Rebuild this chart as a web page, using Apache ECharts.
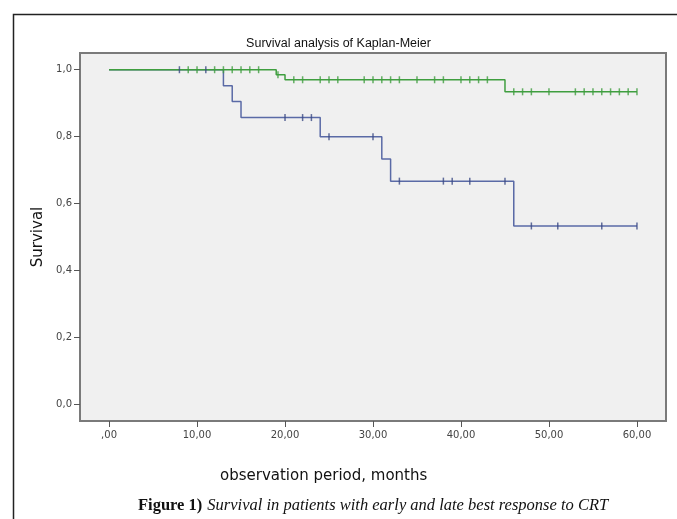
<!DOCTYPE html>
<html>

<head>
  <meta charset="UTF-8">
  <title>Survival analysis of Kaplan-Meier</title>
  <style>
    html, body { margin: 0; padding: 0; background: #fff; }
  </style>
</head>

<body>
  <div id="main" style="width: 677px; height: 519px;"></div>
  <script src="https://cdn.jsdelivr.net/npm/echarts@6/dist/echarts.min.js"></script>
  <script>
    // step points of the two Kaplan-Meier curves [month, survival]
    const greenSteps = [[0, 1], [19, 0.985], [20, 0.97], [45, 0.934], [60, 0.934]];
    const blueSteps = [[0, 1], [13, 0.952], [14, 0.905], [15, 0.857], [24, 0.8], [31, 0.733], [32, 0.667], [46, 0.533], [60, 0.533]];

    // censored observations [month, survival]
    const greenCensored = [
      [9, 1], [10, 1], [12, 1], [13, 1], [14, 1], [15, 1], [16, 1], [17, 1],
      [19.2, 0.985],
      [21, 0.97], [22, 0.97], [24, 0.97], [25, 0.97], [26, 0.97], [29, 0.97], [30, 0.97], [31, 0.97],
      [32, 0.97], [33, 0.97], [35, 0.97], [37, 0.97], [38, 0.97], [40, 0.97], [41, 0.97], [42, 0.97], [43, 0.97],
      [46, 0.934], [47, 0.934], [48, 0.934], [50, 0.934], [53, 0.934], [54, 0.934], [55, 0.934],
      [56, 0.934], [57, 0.934], [58, 0.934], [59, 0.934], [60, 0.934]
    ];
    const blueCensored = [
      [8, 1], [11, 1],
      [20, 0.857], [22, 0.857], [23, 0.857],
      [25, 0.8], [30, 0.8],
      [33, 0.667], [38, 0.667], [39, 0.667], [41, 0.667], [45, 0.667],
      [48, 0.533], [51, 0.533], [56, 0.533], [60, 0.533]
    ];

    const xTicks = [0, 10, 20, 30, 40, 50, 60];
    const xTickLabels = [',00', '10,00', '20,00', '30,00', '40,00', '50,00', '60,00'];
    const yTicks = [0, 0.2, 0.4, 0.6, 0.8, 1];
    const yTickLabels = ['0,0', '0,2', '0,4', '0,6', '0,8', '1,0'];

    const green = '#3f9e3f';
    const blue = '#5a6aa6';
    const blueMark = '#3b4a84';

    const chartDom = document.getElementById('main');
    const myChart = echarts.init(chartDom);

    const censorSeries = (data, color) => ({
      type: 'scatter',
      data: data,
      symbol: 'rect',
      symbolSize: [1.5, 7],
      itemStyle: { color: color },
      z: 5,
      silent: true
    });

    const option = {
      animation: false,
      backgroundColor: '#fff',
      title: [{
        text: 'Survival analysis of Kaplan-Meier',
        left: 'center',
        top: 32,
        textStyle: { fontFamily: 'Liberation Sans', fontSize: 12.5, fontWeight: 'normal', color: '#111' }
      }, {
        text: 'observation period, months',
        left: 215,
        top: 464,
        textStyle: { fontFamily: 'DejaVu Sans', fontSize: 15, fontWeight: 'normal', color: '#111' }
      }, {
        text: '{b|Figure 1)} {i|Survival in patients with early and late best response to CRT}',
        left: 133,
        top: 492,
        textStyle: {
          fontWeight: 'normal',
          rich: {
            b: { fontFamily: 'Liberation Serif', fontSize: 16.5, fontWeight: 'bold', color: '#111' },
            i: { fontFamily: 'Liberation Serif', fontSize: 16.5, fontWeight: 'normal', fontStyle: 'italic', color: '#111' }
          }
        }
      }],
      graphic: [{
        type: 'rect',
        left: 11,
        top: 12,
        shape: { width: 700, height: 600 },
        style: { fill: null, stroke: '#222', lineWidth: 1.5 },
        silent: true
      }],
      grid: {
        left: 80,
        right: 11,
        top: 53,
        bottom: 98,
        show: true,
        backgroundColor: '#f0f0f0',
        borderColor: '#7a7a7a',
        borderWidth: 2
      },
      xAxis: {
        type: 'value',
        min: -3.3,
        max: 63.3,
        splitLine: { show: false },
        axisLine: { show: false, onZero: false },
        axisTick: {
          show: true,
          length: 6,
          customValues: xTicks,
          lineStyle: { color: '#555' }
        },
        axisLabel: {
          customValues: xTicks,
          formatter: (v) => xTickLabels[xTicks.indexOf(v)],
          fontFamily: 'DejaVu Sans',
          fontSize: 10,
          color: '#444',
          margin: 9
        }
      },
      yAxis: {
        type: 'value',
        min: -0.05,
        max: 1.05,
        name: 'Survival',
        nameLocation: 'middle',
        nameGap: 34,
        nameTextStyle: { fontFamily: 'DejaVu Sans', fontSize: 15, color: '#111' },
        splitLine: { show: false },
        axisLine: { show: false, onZero: false },
        axisTick: {
          show: true,
          length: 6,
          customValues: yTicks,
          lineStyle: { color: '#555' }
        },
        axisLabel: {
          customValues: yTicks,
          formatter: (v) => yTickLabels[yTicks.findIndex((t) => Math.abs(t - v) < 1e-9)],
          fontFamily: 'DejaVu Sans',
          fontSize: 10,
          color: '#444',
          margin: 8
        }
      },
      series: [{
        type: 'line',
        step: 'end',
        data: blueSteps,
        showSymbol: false,
        lineStyle: { color: blue, width: 1.5 },
        z: 2
      }, {
        type: 'line',
        step: 'end',
        data: greenSteps,
        showSymbol: false,
        lineStyle: { color: green, width: 1.5 },
        z: 3
      },
      censorSeries(greenCensored, green),
      censorSeries(blueCensored, blueMark)
      ]
    };

    myChart.setOption(option);
  </script>
</body>

</html>
